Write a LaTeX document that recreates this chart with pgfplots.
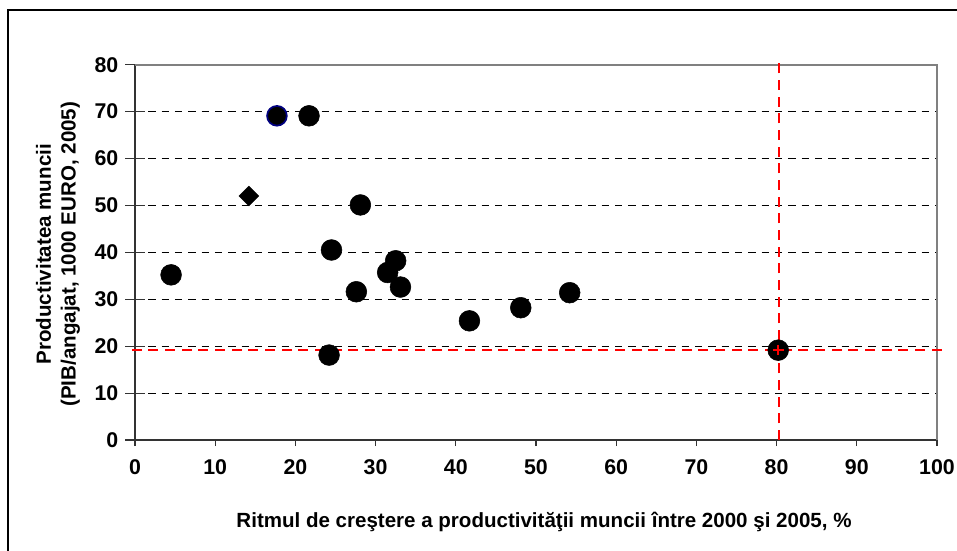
\documentclass[border=0pt]{standalone}
\usepackage{pgfplots}
\pgfplotsset{compat=1.18}
\usepackage{fontspec}
\setmainfont{Liberation Sans}
\definecolor{gridgray}{RGB}{128,128,128}
\definecolor{navyout}{RGB}{0,0,128}
\begin{document}
\begin{tikzpicture}
\begin{axis}[
  at={(0,0)}, anchor=south west,
  scale only axis, width=601.5pt, height=281.5pt,
  xmin=0, xmax=100, ymin=0, ymax=80,
  xtick={0,10,...,100}, ytick={0,10,...,80},
  axis x line*=bottom, axis y line*=left,
  axis line style={line width=1pt, black!80},
  tick align=outside, major tick length=4.5pt,
  tick style={black!80, line width=0.8pt},
  ytick style={/pgfplots/major tick length=15pt, xshift=7.5pt},
  ymajorgrids, grid style={black, line width=0.7pt, dash pattern=on 5.5pt off 4.5pt},
  /pgf/number format/assume math mode=true,
  ticklabel style={font=\bfseries\fontsize{16}{19}\selectfont},
  yticklabel style={xshift=-4.5pt},
  xticklabel style={yshift=-7pt},
  xlabel={Ritmul de creştere a productivităţii muncii între 2000 şi 2005, \%},
  ylabel={Productivitatea muncii\\(PIB/angajat, 1000 EURO, 2005)},
  label style={font=\bfseries\fontsize{15.4}{18.5}\selectfont},
  xlabel style={at={(axis description cs:0.51,-0.2185)}, anchor=center},
  ylabel style={at={(axis description cs:-0.096,0.495)}, anchor=center, align=center},
  clip=false,
]
% gray top and right border
\draw[gridgray, line width=1.5pt] (rel axis cs:0,1) -- (rel axis cs:1,1) -- (rel axis cs:1,0);
% main series
\addplot[only marks, mark=*, mark size=7.8pt, mark options={fill=black, draw=black}] coordinates {
(4.5,35.2) (21.7,69.1) (28.1,50.1) (24.5,40.5) (32.5,38.2) (31.5,35.7)
(33.1,32.6) (27.6,31.6) (24.2,18.1) (41.7,25.4) (48.1,28.2) (54.2,31.4)
};
% blue outlined point
\addplot[only marks, mark=*, mark size=7.4pt, mark options={fill=black, draw=navyout, line width=1.3pt}] coordinates {(17.7,69.1)};
% diamond
\addplot[only marks, mark=square*, mark size=5.2pt, mark options={fill=black, draw=black, rotate=45}] coordinates {(14.2,52.0)};
% red reference lines
\addplot[red, line width=2pt, dash pattern=on 7.5pt off 5pt] coordinates {(-0.4,19.15) (100.6,19.15)};
\addplot[red, line width=2pt, dash pattern=on 7.5pt off 5pt] coordinates {(80.3,0) (80.3,80.5)};
% highlighted point
\addplot[only marks, mark=*, mark size=7.8pt, mark options={fill=black, draw=black}] coordinates {(80.2,19.15)};
\addplot[only marks, red, mark=+, mark size=4pt, mark options={line width=1.8pt}] coordinates {(80.2,19.15)};
\end{axis}
\draw[line width=1.5pt] (-95.25pt,-120pt) -- (-95.25pt,322.5pt) -- (660pt,322.5pt);
\pgfresetboundingbox
\path[use as bounding box] (-101.25pt,-82.5pt) rectangle (616.5pt,330pt);
\end{tikzpicture}
\end{document}
